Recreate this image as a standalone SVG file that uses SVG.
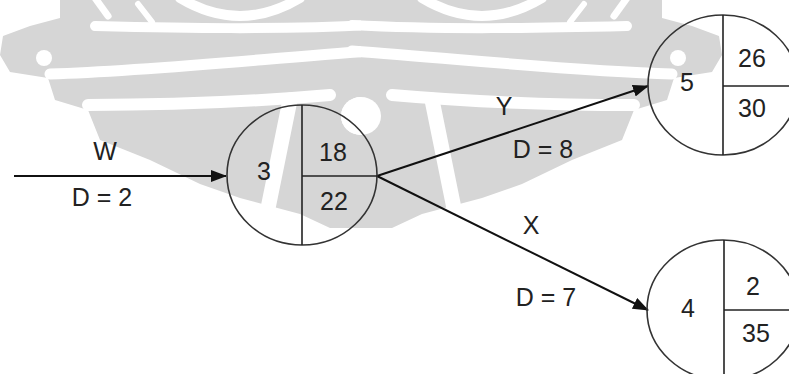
<svg xmlns="http://www.w3.org/2000/svg" width="789" height="374" viewBox="0 0 789 374">
<style>
.wm{fill:#d6d6d6;stroke:none}
.wc{fill:none;stroke:#ffffff;stroke-linecap:round}
.node{fill:none;stroke:#333;stroke-width:1.6}
.div{stroke:#222;stroke-width:1.6}
.edge{stroke:#111;stroke-width:2;fill:none}
text{font-family:"Liberation Sans",Arial,sans-serif;font-size:25px;fill:#222;text-anchor:middle}
</style>
<defs>
<marker id="ah" markerUnits="userSpaceOnUse" markerWidth="16" markerHeight="12" refX="15" refY="6" orient="auto">
<path d="M0,0 L16,6 L0,12 Z" fill="#111"/>
</marker>
<g id="wmhalf">
<path class="wm" d="M60,0 H361 V228 H330 L300,214 L240,198 L200,184 L150,160 L100,140 L88,110 L55,100 L48,78 L10,72 L0,55 L3,36 L30,26 L60,18 Z"/>
<path class="wc" stroke-width="10" d="M180,-2 Q240,34 300,-2"/>
<path class="wc" stroke-width="7" d="M95,-2 L108,16"/>
<path class="wc" stroke-width="6" d="M138,4 L152,22"/>
<path class="wc" stroke-width="10" d="M95,26 C180,28 280,30 370,25"/>
<path class="wc" stroke-width="11" d="M50,74 C150,71 260,59 370,51"/>
<path class="wc" stroke-width="12" d="M88,105 C160,105 250,102 330,95"/>
<path class="wc" stroke-width="15" d="M290,100 L264,228"/>
<circle cx="44" cy="58" r="8" fill="#fff"/>
<ellipse cx="361" cy="116" rx="20" ry="19" fill="#fff"/>
</g>
</defs>
<rect width="789" height="374" fill="#fff"/>
<g id="watermark">
<use href="#wmhalf"/>
<use href="#wmhalf" transform="translate(722,0) scale(-1,1)"/>
</g>
<g id="connectors">
<line class="edge" x1="14" y1="176" x2="226" y2="176" marker-end="url(#ah)"/>
<line class="edge" x1="377" y1="176" x2="648" y2="86" marker-end="url(#ah)"/>
<line class="edge" x1="377" y1="176" x2="648" y2="310" marker-end="url(#ah)"/>
<text x="105" y="160">W</text>
<text x="102" y="206">D = 2</text>
<text x="504" y="115">Y</text>
<text x="543" y="158">D = 8</text>
<text x="531" y="234">X</text>
<text x="546" y="306">D = 7</text>
</g>
<g id="node3">
<ellipse class="node" cx="302" cy="175" rx="75" ry="70"/>
<line class="div" x1="302" y1="105" x2="302" y2="245"/>
<line class="div" x1="302" y1="176" x2="377" y2="176"/>
<text x="264" y="180">3</text>
<text x="333" y="161">18</text>
<text x="334" y="210">22</text>
</g>
<g id="node5">
<ellipse class="node" cx="723" cy="85" rx="75" ry="70"/>
<line class="div" x1="723" y1="15" x2="723" y2="155"/>
<line class="div" x1="723" y1="86" x2="798" y2="86"/>
<text x="687" y="91">5</text>
<text x="752" y="67">26</text>
<text x="752" y="117">30</text>
</g>
<g id="node4">
<ellipse class="node" cx="723" cy="310" rx="76" ry="70"/>
<line class="div" x1="724" y1="240" x2="724" y2="380"/>
<line class="div" x1="724" y1="310" x2="799" y2="310"/>
<text x="688" y="317">4</text>
<text x="753" y="295">2</text>
<text x="756" y="342">35</text>
</g>
</svg>
